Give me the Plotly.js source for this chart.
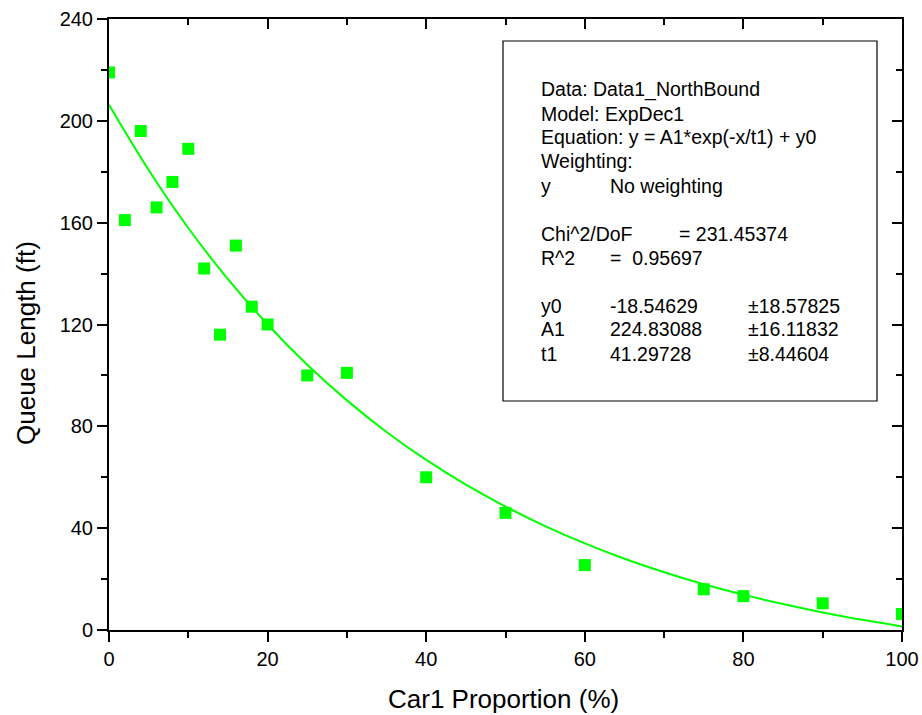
<!DOCTYPE html>
<html>
<head>
<meta charset="utf-8">
<script src="https://cdn.plot.ly/plotly-3.0.1.min.js"></script>
<style>html,body{margin:0;padding:0;background:#fff;}#chart{width:922px;height:715px;}</style>
</head>
<body>
<div id="chart"></div>
<script>
// Data points
var carProportion = [0, 2, 4, 6, 8, 10, 12, 14, 16, 18, 20, 25, 30, 40, 50, 60, 75, 80, 90, 100];
var queueLength   = [219, 161, 196, 166, 176, 189, 142, 116, 151, 127, 120, 100, 101, 60, 46, 25.5, 16, 13.3, 10.5, 6.3];

// Fitted curve
var fitX = [0, 5, 10, 15, 20, 25, 30, 35, 40, 45, 50, 55, 60, 65, 70, 75, 80, 85, 90, 95, 100];
var fitY = [206.3, 180.7, 157.9, 137.8, 120.0, 104.2, 90.2, 77.8, 66.8, 57.1, 48.5, 40.8, 34.0, 28.0, 22.7, 18.0, 13.9, 10.2, 6.9, 4.0, 1.4];

// Fit report text
var infoLabels = ["Data: Data1_NorthBound", "Model: ExpDec1", "Equation: y = A1*exp(-x/t1) + y0", "Weighting:", "y", "", "Chi^2/DoF", "R^2", "", "y0", "A1", "t1"];
var infoMid    = ["", "", "", "", "", "", "= 231.45374", "", "", "", "", ""];
var infoValues = ["", "", "", "", "No weighting", "", "", "= \u00a00.95697", "", "-18.54629", "224.83088", "41.29728"];
var infoErrors = ["", "", "", "", "", "", "", "", "", "\u00b118.57825", "\u00b116.11832", "\u00b18.44604"];

var xTitle = "Car1 Proportion (%)";
var yTitle = "Queue Length (ft)";

var GREEN = '#00ff00';
var FONT = 'Liberation Sans, Arial, sans-serif';

var traces = [
  { x: fitX, y: fitY, type: 'scatter', mode: 'lines', line: {color: GREEN, width: 2, shape: 'spline'} },
  { x: carProportion, y: queueLength, type: 'scatter', mode: 'markers', marker: {symbol: 'square', size: 12, color: GREEN} },
  { x: [50], y: [120], xaxis: 'x2', yaxis: 'y2', type: 'scatter', mode: 'markers', marker: {opacity: 0} }
];

var W = 922, H = 715, L = 109, R = 20, T = 19, B = 85;
var pw = W - L - R, ph = H - T - B;
function px2x(p) { return (p - L) / pw; }
function py2y(p) { return (H - B - p) / ph; }

var annotations = [];
var rowY0 = 89.5, rowStep = 24;
[{arr: infoLabels, x: 539}, {arr: infoMid, x: 677}, {arr: infoValues, x: 608}, {arr: infoErrors, x: 746}].forEach(function (c) {
  c.arr.forEach(function (t, i) {
    if (!t) return;
    annotations.push({
      xref: 'paper', yref: 'paper', x: px2x(c.x), y: py2y(rowY0 + rowStep * i),
      xanchor: 'left', yanchor: 'middle', showarrow: false, text: t,
      font: {family: FONT, size: 19.5, color: '#000'}
    });
  });
});
annotations.push({
  xref: 'paper', yref: 'paper', x: px2x(503), y: py2y(699), xanchor: 'center', yanchor: 'middle',
  showarrow: false, text: xTitle, font: {family: FONT, size: 26, color: '#000'}
});
annotations.push({
  xref: 'paper', yref: 'paper', x: px2x(26), y: py2y(343), xanchor: 'center', yanchor: 'middle',
  showarrow: false, text: yTitle, textangle: -90, font: {family: FONT, size: 26, color: '#000'}
});

var common = { showgrid: false, zeroline: false, showline: true, linecolor: '#000', linewidth: 2, tickcolor: '#000', tickwidth: 2 };
function mk(o, minor) { var a = Object.assign({}, common, o); a.minor = minor; return a; }

var layout = {
  width: W, height: H, margin: {l: L, r: R, t: T, b: B}, showlegend: false,
  font: {family: FONT, color: '#000'},
  xaxis: mk({range: [0, 100], dtick: 20, ticks: 'outside', ticklen: 10, tickfont: {size: 20, family: FONT}},
    {ticks: 'outside', dtick: 10, ticklen: 6, tickwidth: 2, tickcolor: '#000'}),
  yaxis: mk({range: [0, 240], dtick: 40, ticks: 'outside', ticklen: 10, tickfont: {size: 20, family: FONT}},
    {ticks: 'outside', dtick: 20, ticklen: 6, tickwidth: 2, tickcolor: '#000'}),
  xaxis2: mk({overlaying: 'x', side: 'top', range: [0, 100], dtick: 20, ticks: 'inside', ticklen: 10, showticklabels: false},
    {ticks: 'inside', dtick: 10, ticklen: 6, tickwidth: 2, tickcolor: '#000'}),
  yaxis2: mk({overlaying: 'y', side: 'right', range: [0, 240], dtick: 40, ticks: 'inside', ticklen: 10, showticklabels: false},
    {ticks: 'inside', dtick: 20, ticklen: 6, tickwidth: 2, tickcolor: '#000'}),
  shapes: [{
    type: 'rect', xref: 'paper', yref: 'paper',
    x0: px2x(503), x1: px2x(877), y0: py2y(401), y1: py2y(41),
    line: {color: '#000', width: 1.2}, fillcolor: 'rgba(0,0,0,0)'
  }],
  annotations: annotations
};

Plotly.newPlot('chart', traces, layout, {staticPlot: true});
</script>
</body>
</html>
